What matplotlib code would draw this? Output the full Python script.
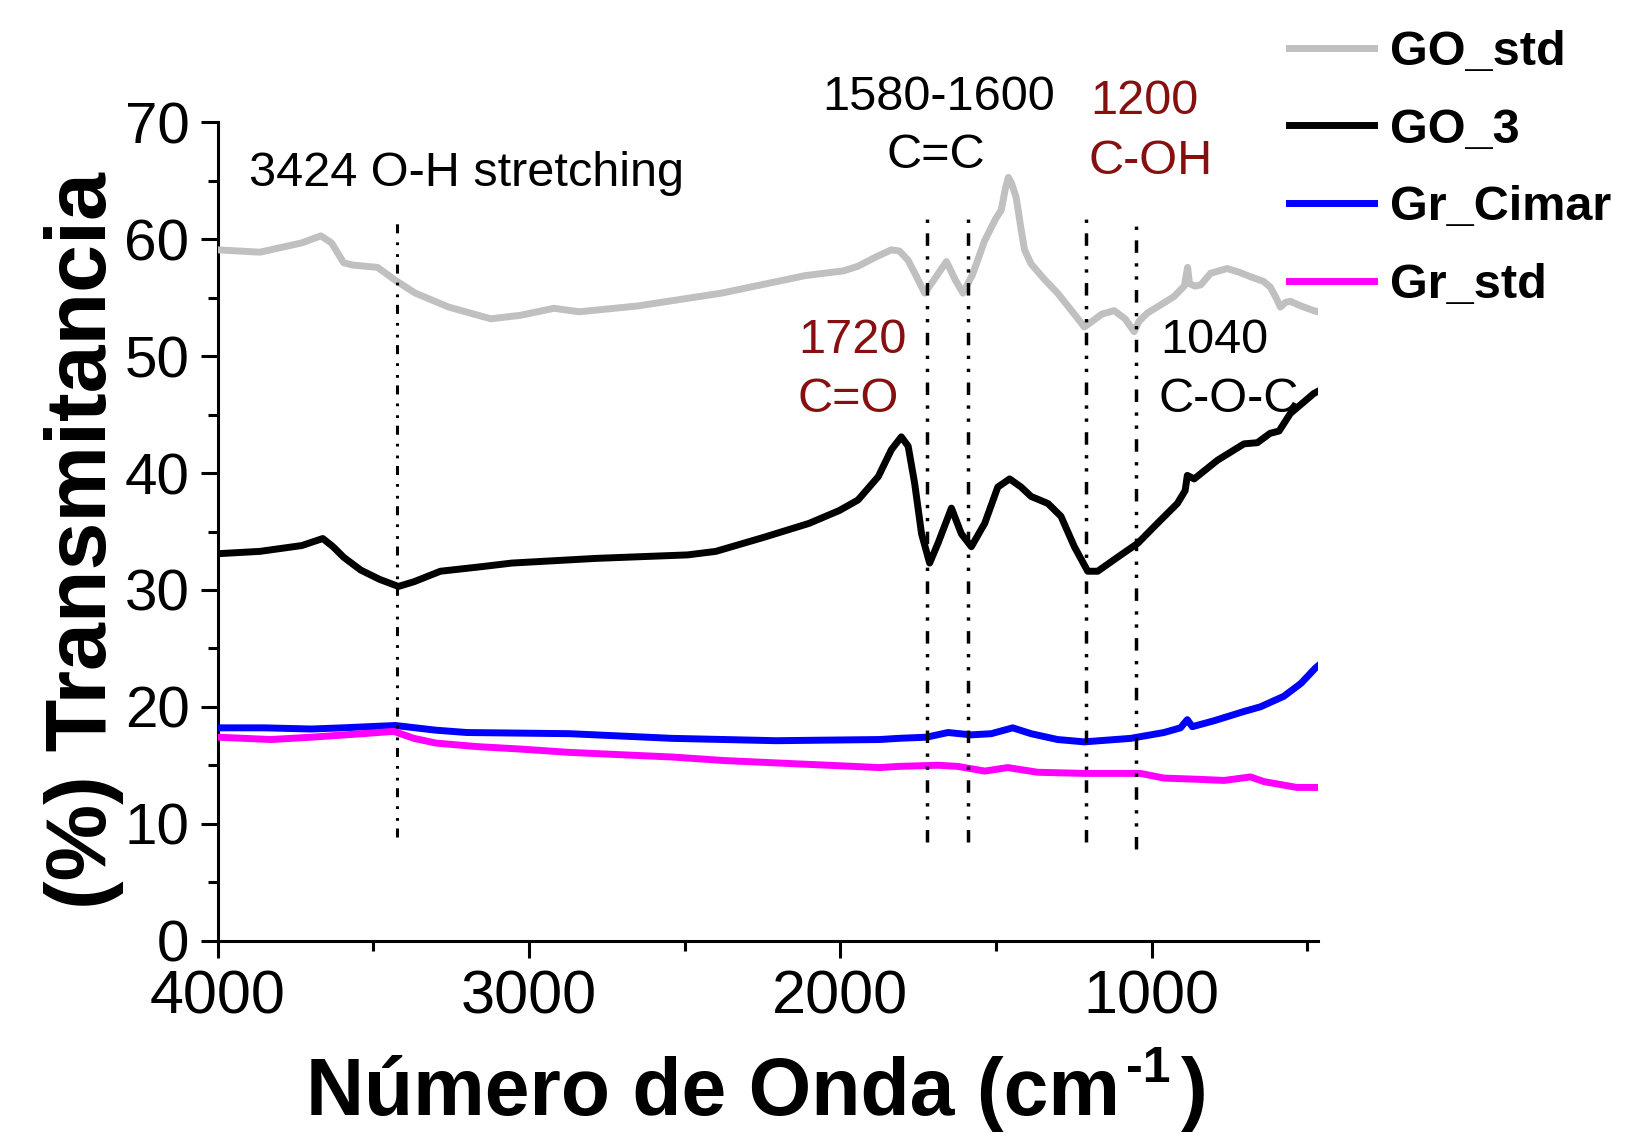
import matplotlib
matplotlib.use('Agg')
import matplotlib.pyplot as plt
from matplotlib.ticker import MultipleLocator

plt.rcParams['font.family'] = ['Liberation Sans', 'DejaVu Sans']
plt.rcParams['lines.scale_dashes'] = False

# ---------------- data ----------------
go_std_wn = [4000, 3865, 3730, 3669, 3635, 3596, 3568, 3487, 3430, 3366, 3258, 3123, 3028, 2920,
             2839, 2651, 2381, 2112, 1990, 1943, 1885, 1836, 1810, 1782, 1755, 1729, 1700, 1659,
             1630, 1606, 1575, 1536, 1500, 1483, 1470, 1460, 1450, 1435, 1420, 1408, 1387, 1345,
             1302, 1260, 1216, 1200, 1160, 1120, 1085, 1056, 1040, 1013, 970, 928, 895, 884, 878,
             860, 842, 810, 757, 720, 682, 640, 618, 600, 586, 570, 554, 520, 479, 465]
go_std_t = [59.1, 58.9, 59.7, 60.3, 59.7, 58.0, 57.8, 57.6, 56.5, 55.4, 54.2, 53.2, 53.5, 54.1,
            53.8, 54.3, 55.4, 56.9, 57.3, 57.7, 58.5, 59.1, 59.0, 58.2, 56.8, 55.4, 56.5, 58.1,
            56.5, 55.4, 57.0, 59.9, 61.8, 62.5, 64.3, 65.3, 64.8, 63.6, 61.0, 59.1, 57.9, 56.6,
            55.4, 54.0, 52.5, 52.8, 53.6, 53.9, 53.2, 52.1, 53.0, 53.7, 54.4, 55.1, 56.0, 57.6, 56.2,
            56.0, 56.1, 57.1, 57.5, 57.2, 56.8, 56.4, 55.9, 55.0, 54.2, 54.6, 54.7, 54.3, 53.9, 53.8]

go_3_wn = [4000, 3865, 3730, 3663, 3630, 3596, 3541, 3480, 3420, 3370, 3285, 3150, 3055, 2785,
           2490, 2400, 2246, 2100, 2003, 1943, 1878, 1836, 1804, 1782, 1761, 1739, 1713, 1686,
           1643, 1611, 1579, 1536, 1494, 1456, 1419, 1387, 1333, 1291, 1248, 1205, 1173, 1109,
           1044, 981, 917, 892, 885, 863, 788, 703, 660, 619, 590, 554, 479, 465]
go_3_t = [33.1, 33.3, 33.8, 34.4, 33.7, 32.8, 31.7, 30.9, 30.3, 30.7, 31.6, 32.0, 32.3, 32.7,
          33.0, 33.3, 34.5, 35.7, 36.8, 37.7, 39.7, 42.0, 43.1, 42.3, 39.1, 34.8, 32.3, 34.0,
          37.0, 34.8, 33.7, 35.7, 38.8, 39.5, 38.8, 38.0, 37.4, 36.3, 33.7, 31.6, 31.6, 32.8,
          34.0, 35.7, 37.4, 38.5, 39.8, 39.5, 41.1, 42.5, 42.6, 43.4, 43.6, 45.1, 46.8, 47.0]

gr_cimar_wn = [4000, 3850, 3700, 3600, 3430, 3300, 3200, 2870, 2540, 2206, 1874, 1814, 1723, 1654,
               1580, 1515, 1446, 1387, 1302, 1216, 1067, 960, 907, 885, 869, 800, 703, 650, 575,
               520, 474, 465]
gr_cimar_t = [18.2, 18.2, 18.1, 18.2, 18.4, 18.0, 17.8, 17.7, 17.3, 17.1, 17.2, 17.3, 17.4, 17.8,
              17.6, 17.7, 18.2, 17.7, 17.2, 17.0, 17.3, 17.8, 18.2, 18.9, 18.3, 18.8, 19.6, 20.0, 20.9,
              22.0, 23.3, 23.5]

gr_std_wn = [4000, 3830, 3700, 3535, 3435, 3370, 3300, 3170, 3037, 2870, 2704, 2538, 2372, 2206,
             2040, 1874, 1814, 1686, 1622, 1536, 1462, 1366, 1216, 1035, 960, 853, 767, 682, 639,
             533, 465]
gr_std_t = [17.4, 17.2, 17.4, 17.7, 17.9, 17.3, 16.9, 16.6, 16.4, 16.1, 15.9, 15.7, 15.4, 15.2,
            15.0, 14.8, 14.9, 15.0, 14.9, 14.5, 14.8, 14.4, 14.3, 14.3, 13.9, 13.8, 13.7, 14.0, 13.6,
            13.1, 13.1]

series_labels = ['GO_std', 'GO_3', 'Gr_Cimar', 'Gr_std']
series_colors = ['#C0C0C0', '#000000', '#0000FF', '#FF00FF']

# reference (band) lines: position, y-start, y-end
band_pos = [3424, 1720, 1590, 1210, 1050]
band_ymin = [8.9, 8.4, 8.4, 8.4, 7.8]
band_ymax = [61.6, 62.5, 62.5, 62.5, 61.9]

# annotations: text, x, y, colour, horizontal alignment
ann_text = ['3424 O-H stretching', '1580-1600', 'C=C', '1200', 'C-OH',
            '1720', 'C=O', '1040', 'C-O-C']
ann_x = [3900, 1684, 1694, 1023, 1003, 1960, 1974, 798, 753]
ann_y = [64.6, 71.1, 66.1, 70.7, 65.6, 50.3, 45.2, 50.3, 45.2]
ann_col = ['k', 'k', 'k', '#861010', '#861010', '#861010', '#861010', 'k', 'k']
ann_ha = ['left', 'center', 'center', 'center', 'center', 'center', 'center', 'center', 'center']

x_label_main = 'Número de Onda (cm'
x_label_sup = '-1'
x_label_end = ')'
y_label = '(%) Transmitancia'

# ---------------- figure ----------------
fig = plt.figure(figsize=(16.26, 11.34), dpi=100)
ax = fig.add_axes([0.134, 0.1706, 0.6766, 0.7214])

series = [(go_std_wn, go_std_t), (go_3_wn, go_3_t), (gr_cimar_wn, gr_cimar_t), (gr_std_wn, gr_std_t)]
handles = []
for (wn, t), c, lab in zip(series, series_colors, series_labels):
    h, = ax.plot(wn, t, color=c, lw=5.0, label=lab, solid_joinstyle='round', zorder=3)
    handles.append(h)

for i, (xp, y0, y1) in enumerate(zip(band_pos, band_ymin, band_ymax)):
    if i == 0:
        ls = (0, (6.5, 5.5, 2.0, 6.5, 2.0, 6.5))
        lw = 2.2
    else:
        ls = (0, (9.0, 7.5, 2.4, 7.0, 2.4, 7.5))
        lw = 2.5
    ax.plot([xp, xp], [y0, y1], color='k', lw=lw, linestyle=ls, dash_capstyle='butt', zorder=4)

for txt, x, y, c, ha in zip(ann_text, ann_x, ann_y, ann_col, ann_ha):
    ax.text(x, y, txt, color=c, fontsize=35, ha=ha, va='baseline', zorder=5)

ax.set_xlim(4000, 465)
ax.set_ylim(0, 70)
ax.xaxis.set_major_locator(MultipleLocator(1000))
ax.xaxis.set_minor_locator(MultipleLocator(500))
ax.yaxis.set_major_locator(MultipleLocator(10))
ax.yaxis.set_minor_locator(MultipleLocator(5))

for s in ['top', 'right']:
    ax.spines[s].set_visible(False)
for s in ['left', 'bottom']:
    ax.spines[s].set_linewidth(2.2)

ax.tick_params(which='major', length=12.5, width=2.2, direction='out')
ax.tick_params(which='minor', length=7, width=2.2, direction='out')
ax.tick_params(axis='x', which='major', labelsize=44, pad=8)
ax.tick_params(axis='y', which='major', labelsize=42, pad=8)

fig.text(84 / 1626, 1 - 541 / 1134, y_label, rotation=90, ha='center', va='center',
         fontsize=62, fontweight='bold')

# x label assembled from parts so the superscript is a plain hyphen, raised
W, H = 1626, 1134
base_y = 1 - 1115 / H
t1 = fig.text(0, base_y, x_label_main, ha='left', va='baseline', fontsize=58, fontweight='bold')
t2 = fig.text(0, base_y + 33 / H, x_label_sup, ha='left', va='baseline', fontsize=36,
              fontweight='bold')
t3 = fig.text(0, base_y, x_label_end, ha='left', va='baseline', fontsize=58, fontweight='bold')
fig.canvas.draw()
r = fig.canvas.get_renderer()
w1 = t1.get_window_extent(r).width
w2 = t2.get_window_extent(r).width
w3 = t3.get_window_extent(r).width
gap1, gap2 = 6, 10
total = w1 + gap1 + w2 + gap2 + w3
x0 = 757 - total / 2
t1.set_x(x0 / W)
t2.set_x((x0 + w1 + gap1) / W)
t3.set_x((x0 + w1 + gap1 + w2 + gap2) / W)

fig.legend(handles, series_labels, loc='upper left', bbox_to_anchor=(1289 / 1626, 0.9736),
           frameon=False, prop={'weight': 'bold', 'size': 35}, handlelength=1.75,
           handletextpad=0.33, labelspacing=0.67, borderpad=0, borderaxespad=0)

fig.savefig('out.png', dpi=100)
